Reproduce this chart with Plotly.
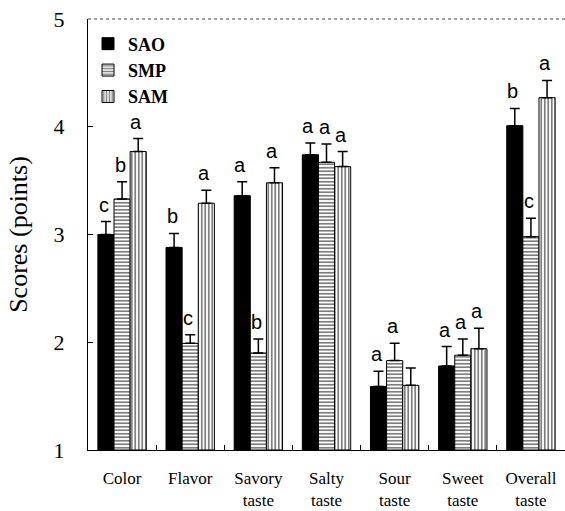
import plotly.graph_objects as go

categories = ["Color", "Flavor", "Savory<br>taste", "Salty<br>taste", "Sour<br>taste", "Sweet<br>taste", "Overall<br>taste"]
series_names = ["SAO", "SMP", "SAM"]
sao = [3.00, 2.88, 3.36, 3.74, 1.59, 1.78, 4.01]
smp = [3.33, 1.99, 1.90, 3.67, 1.83, 1.88, 2.98]
sam = [3.77, 3.29, 3.48, 3.63, 1.60, 1.94, 4.27]
sao_err = [0.12, 0.13, 0.13, 0.11, 0.14, 0.18, 0.16]
smp_err = [0.16, 0.08, 0.13, 0.17, 0.16, 0.15, 0.17]
sam_err = [0.12, 0.12, 0.14, 0.14, 0.16, 0.19, 0.16]
sao_letters = ["c", "b", "a", "a", "a", "a", "b"]
smp_letters = ["b", "c", "b", "a", "a", "a", "c"]
sam_letters = ["a", "a", "a", "a", "", "a", "a"]
y_ticks = [1, 2, 3, 4, 5]

FONT = "Liberation Serif"
bargap = 0.29
x = list(range(len(categories)))
values = [sao, smp, sam]
errs = [sao_err, smp_err, sam_err]
letters = [sao_letters, smp_letters, sam_letters]
patterns = ["", "-", "|"]

fig = go.Figure()
for k, name in enumerate(series_names):
    marker = dict(color="black" if k == 0 else "white", line=dict(color="black", width=1))
    if patterns[k]:
        marker["pattern"] = dict(shape=patterns[k], fgcolor="black", bgcolor="white", size=3.5, solidity=0.5)
    fig.add_trace(go.Bar(
        x=x, y=[v - 1 for v in values[k]], base=1, name=name, marker=marker,
        error_y=dict(type="data", symmetric=False, array=errs[k], arrayminus=[0] * len(x),
                     color="black", thickness=1.5, width=5),
    ))

w = (1 - bargap) / 3
for k in range(3):
    off = (k - 1) * w
    for i in x:
        if letters[k][i]:
            fig.add_annotation(x=i + off, y=values[k][i] + errs[k][i], text=letters[k][i],
                               showarrow=False, yanchor="bottom", yshift=4, xshift=-2,
                               font=dict(family="Liberation Sans", size=20, color="black"))

fig.add_shape(type="line", xref="paper", yref="paper", x0=0, x1=1, y0=1, y1=1, layer="above",
              line=dict(color="#444", width=1, dash="dot"))

fig.update_layout(
    width=565, height=511,
    margin=dict(l=88, r=0, t=19, b=61),
    paper_bgcolor="white", plot_bgcolor="white",
    barmode="group", bargap=bargap, bargroupgap=0,
    font=dict(family=FONT, color="black"),
    showlegend=True,
    legend=dict(x=0.0, y=0.985, xanchor="left", yanchor="top", bgcolor="rgba(0,0,0,0)",
                font=dict(family=FONT, size=18, color="black", weight="bold"), tracegroupgap=0,
                itemwidth=30),
)
fig.update_xaxes(
    range=[-0.5, 6.5], tickvals=x, ticktext=categories, ticks="", showline=True,
    linecolor="black", linewidth=1.2, showgrid=False, zeroline=False,
    tickfont=dict(family=FONT, size=17, color="black"), ticklabelstandoff=12,
    minor=dict(tickvals=[i + 0.5 for i in x[:-1]], ticks="inside", ticklen=5, tickcolor="black"),
)
fig.update_yaxes(
    range=[1, 5], tickvals=y_ticks, ticks="inside", ticklen=5, tickcolor="black",
    showline=True, linecolor="black", linewidth=1.2, showgrid=False, zeroline=False,
    tickfont=dict(family=FONT, size=22, color="black"), ticklabelstandoff=18,
    title=dict(text="Scores (points)", font=dict(family=FONT, size=26, color="black"), standoff=18),
)
fig.write_html("out.html", config={"displayModeBar": False},
               post_script="document.body.style.margin='0';document.body.style.overflow='hidden';")
